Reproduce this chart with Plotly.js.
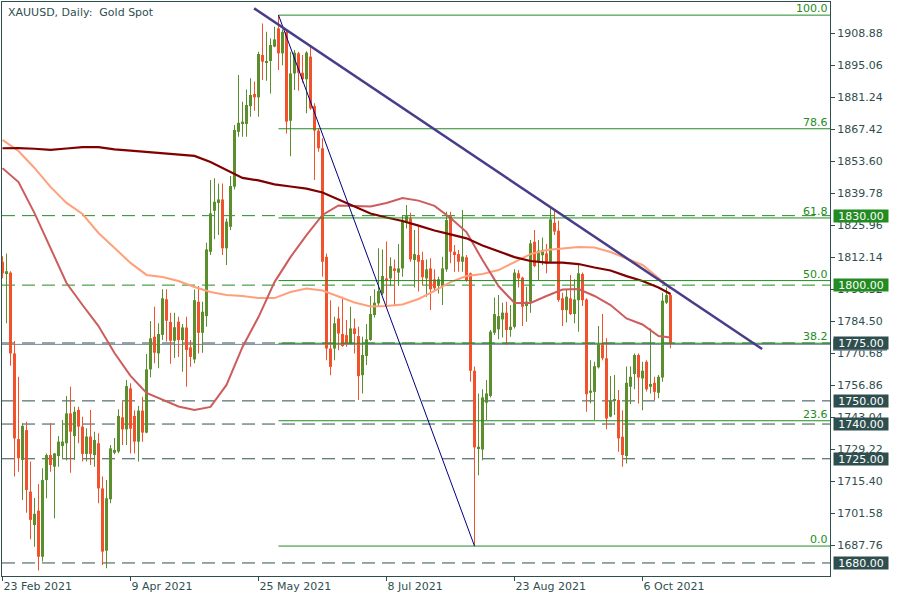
<!DOCTYPE html>
<html><head><meta charset="utf-8">
<script src="https://cdn.plot.ly/plotly-3.0.1.min.js"></script>
<style>html,body{margin:0;padding:0;background:#fff;}#chart{width:900px;height:600px;}</style>
</head><body><div id="chart"></div>
<script>
// ---------- data ----------
const tickIndex = [0, 32, 64, 96, 128, 160];
const tickLabels = ['23 Feb 2021', '9 Apr 2021', '25 May 2021', '8 Jul 2021', '23 Aug 2021', '6 Oct 2021'];
const priceTicks = [1687.76, 1701.58, 1715.40, 1729.22, 1743.04, 1756.86, 1770.68, 1784.50, 1798.32,
  1812.14, 1825.96, 1839.78, 1853.60, 1867.42, 1881.24, 1895.06, 1908.88];

const openP = [1810.1,1805.2,1805.4,1770.5,1733.5,1724.5,1737.4,1710.8,1696.4,1702.6,
1682.7,1715.8,1726.6,1721.6,1726.2,1730.5,1731.7,1744.6,1734.8,1746.1,
1738.9,1727.1,1734.6,1726.6,1731.7,1712.2,1685.3,1707.5,1727.6,1728.1,
1742.9,1737.7,1755.4,1743.5,1732.4,1745.8,1736.3,1763.6,1777.7,1770.5,
1778.5,1793.9,1784.1,1776.0,1784.2,1776.3,1781.7,1773.1,1767.9,1792.8,
1779.4,1786.6,1814.4,1832.1,1835.5,1837.0,1815.9,1825.2,1842.5,1866.2,
1869.6,1869.6,1877.3,1882.5,1881.1,1899.4,1896.1,1896.8,1903.0,1910.9,
1900.1,1909.4,1871.0,1891.4,1900.1,1891.7,1888.9,1898.7,1877.3,1866.7,
1859.1,1812.2,1772.6,1772.6,1785.6,1778.9,1778.4,1774.8,1781.3,1778.0,
1761.1,1769.4,1776.3,1787.1,1792.1,1796.4,1802.9,1802.9,1807.2,1805.4,
1807.2,1827.4,1828.8,1810.8,1813.0,1810.8,1802.9,1807.2,1802.5,1799.6,
1799.6,1806.8,1829.8,1814.4,1813.4,1810.1,1812.0,1805.1,1763.0,1729.5,
1729.0,1749.2,1752.1,1779.4,1780.9,1785.2,1788.1,1780.6,1782.0,1805.1,
1803.2,1791.0,1792.8,1818.7,1810.1,1812.9,1813.7,1810.1,1826.9,1823.5,
1794.3,1789.2,1794.3,1787.5,1793.5,1804.8,1793.8,1753.5,1753.9,1764.5,
1774.8,1768.4,1743.2,1750.1,1750.4,1734.5,1726.2,1756.1,1761.6,1769.8,
1759.7,1766.9,1756.1,1757.8,1753.5,1760.1,1792.4,1795.7];

const highP = [1812.5,1813.7,1806.0,1775.9,1760.4,1740.3,1741.0,1723.8,1708.1,1714.1,
1720.9,1727.3,1740.3,1727.5,1734.8,1741.7,1752.1,1756.1,1747.5,1747.5,
1743.2,1738.2,1746.1,1736.7,1736.0,1717.3,1715.8,1731.0,1734.0,1746.4,
1749.7,1759.0,1757.6,1746.0,1747.8,1751.8,1770.3,1784.5,1790.7,1783.5,
1798.2,1798.2,1788.1,1788.1,1786.3,1783.2,1786.3,1776.3,1798.1,1799.6,
1792.8,1818.3,1845.4,1846.1,1843.9,1843.9,1828.8,1847.1,1869.1,1890.7,
1879.2,1884.5,1889.3,1887.9,1900.8,1913.0,1909.4,1906.6,1911.6,1916.6,
1910.5,1910.2,1900.8,1901.5,1900.8,1899.4,1901.0,1903.0,1878.5,1867.7,
1863.4,1813.7,1793.5,1786.3,1790.7,1795.0,1784.9,1790.7,1785.6,1782.0,
1777.7,1783.2,1795.3,1798.2,1815.9,1815.4,1818.8,1812.0,1811.1,1817.8,
1830.3,1834.6,1831.3,1823.8,1825.2,1814.4,1811.1,1811.6,1806.8,1803.6,
1812.3,1831.7,1831.7,1817.3,1815.2,1832.4,1813.0,1805.4,1764.8,1753.2,
1755.0,1759.0,1780.6,1794.7,1795.7,1792.4,1792.8,1791.4,1806.8,1806.5,
1803.6,1799.3,1819.5,1823.8,1819.5,1820.6,1817.8,1833.9,1832.7,1827.8,
1796.7,1798.2,1804.4,1802.5,1808.7,1805.5,1794.3,1767.6,1766.9,1782.3,
1787.5,1777.0,1760.7,1761.2,1754.7,1746.0,1764.8,1764.8,1770.5,1770.5,
1766.9,1767.5,1781.3,1760.4,1761.2,1796.7,1799.0,1796.4];

const lowP = [1803.0,1783.5,1765.2,1717.3,1719.4,1707.2,1701.7,1690.2,1687.0,1676.7,
1680.6,1707.9,1719.4,1699.3,1721.6,1725.2,1724.2,1719.0,1724.5,1731.7,
1723.8,1723.8,1722.3,1721.6,1705.8,1679.1,1677.7,1705.8,1726.9,1727.4,
1731.0,1731.0,1727.3,1727.3,1723.8,1732.4,1736.0,1760.2,1766.2,1764.1,
1776.3,1775.6,1766.0,1768.5,1769.0,1762.6,1756.1,1764.7,1766.2,1770.5,
1770.8,1782.0,1813.0,1819.8,1821.6,1813.0,1808.7,1823.8,1841.3,1864.1,
1864.1,1864.1,1872.7,1875.3,1872.7,1888.6,1888.3,1882.8,1902.7,1892.9,
1895.0,1865.5,1855.7,1884.3,1883.9,1887.4,1874.2,1875.6,1845.4,1857.6,
1803.6,1767.6,1761.1,1767.6,1771.9,1773.4,1773.4,1774.5,1770.5,1750.4,
1753.2,1765.5,1776.0,1786.0,1791.0,1795.7,1791.4,1799.6,1791.4,1799.6,
1803.6,1824.5,1810.1,1799.0,1797.2,1800.0,1795.0,1789.2,1797.9,1796.4,
1791.4,1805.8,1809.4,1805.8,1805.8,1805.8,1801.5,1758.3,1687.3,1717.9,
1724.4,1741.7,1751.5,1778.4,1776.6,1777.4,1774.1,1777.7,1781.3,1799.0,
1782.3,1784.2,1788.1,1807.7,1802.2,1808.7,1805.1,1809.7,1821.6,1792.8,
1782.3,1783.8,1787.1,1783.5,1779.9,1791.0,1745.3,1749.0,1741.7,1764.0,
1767.6,1737.7,1742.9,1743.9,1728.0,1721.6,1723.0,1748.6,1755.0,1748.9,
1746.0,1754.0,1753.2,1750.4,1751.1,1758.3,1791.8,1772.7];

const closeP = [1805.1,1806.0,1770.5,1733.8,1725.2,1739.2,1711.5,1698.6,1701.2,1682.7,
1715.8,1726.6,1722.3,1727.3,1732.4,1732.4,1744.6,1736.7,1745.3,1738.9,
1727.1,1734.6,1727.1,1733.1,1712.2,1684.9,1707.9,1729.5,1728.8,1743.5,
1737.7,1756.4,1738.0,1732.4,1745.8,1736.3,1763.6,1777.0,1770.8,1778.9,
1794.3,1784.6,1776.0,1781.8,1776.3,1781.7,1772.0,1769.0,1793.5,1779.4,
1788.5,1815.4,1831.0,1836.0,1837.0,1815.9,1827.4,1842.8,1867.0,1870.1,
1870.6,1877.8,1882.1,1881.1,1899.8,1896.5,1896.8,1903.7,1906.1,1900.1,
1909.4,1870.6,1891.4,1900.4,1891.7,1888.9,1900.4,1876.3,1866.7,1859.1,
1810.1,1772.6,1764.7,1783.5,1779.1,1773.7,1774.8,1781.3,1778.9,1760.7,
1769.8,1776.6,1787.5,1792.4,1797.4,1803.9,1802.2,1808.2,1806.5,1807.2,
1828.1,1829.8,1811.1,1813.4,1810.1,1803.4,1806.8,1798.2,1798.6,1802.5,
1807.2,1828.1,1814.4,1813.0,1810.1,1812.3,1802.2,1763.0,1729.9,1730.2,
1751.5,1753.2,1779.9,1787.5,1786.6,1788.1,1780.6,1782.0,1805.4,1802.9,
1790.7,1792.9,1818.0,1808.2,1814.9,1815.2,1809.4,1828.4,1823.1,1793.6,
1789.2,1795.0,1787.5,1793.8,1805.1,1793.5,1752.9,1754.4,1765.0,1774.5,
1768.4,1742.4,1750.0,1750.8,1733.8,1726.6,1757.8,1760.4,1769.8,1760.1,
1763.0,1755.0,1757.3,1753.9,1760.4,1793.3,1795.7,1774.8];

// moving averages (bar index -> value)
const maIndex = [0,4,8,12,16,20,24,28,32,36,40,44,48,52,56,60,64,68,72,76,80,84,88,92,96,100,104,108,112,116,120,124,128,132,136,140,144,148,152,156,160,164,167];
const maSlow = [1859.1,1859.2,1858.9,1858.4,1859.0,1859.6,1859.6,1858.6,1858.1,1857.6,1857.1,1856.4,1855.8,1853.2,1849.7,1846.3,1845.2,1843.5,1842.6,1841.7,1840.0,1837.0,1834.2,1830.9,1829.2,1827.7,1825.7,1823.6,1821.9,1820.2,1817.1,1814.7,1812.1,1810.4,1809.7,1809.7,1809.1,1807.6,1806.3,1803.9,1801.8,1799.0,1796.2];
const maMid = [1862.7,1857.9,1850.6,1842.4,1835.5,1830.7,1822.5,1816.0,1809.6,1804.4,1803.5,1801.8,1799.2,1797.0,1795.7,1795.3,1794.4,1794.4,1797.0,1798.5,1797.7,1795.1,1792.5,1790.8,1791.0,1791.6,1794.0,1797.5,1801.3,1803.9,1804.8,1806.5,1810.0,1813.4,1815.2,1816.0,1816.5,1816.2,1814.3,1811.5,1808.7,1803.1,1798.5];
const maFast = [1850.5,1844.5,1831.1,1816.0,1800.9,1791.4,1782.3,1770.7,1760.8,1753.4,1750.4,1747.6,1746.1,1747.4,1756.9,1773.3,1786.2,1801.3,1812.1,1821.6,1830.3,1834.4,1834.2,1834.0,1835.5,1837.6,1836.5,1834.2,1829.0,1822.9,1810.8,1799.6,1792.3,1792.3,1795.3,1798.1,1798.3,1795.3,1791.4,1785.6,1783.0,1778.0,1777.4];

const levels = [1830, 1800, 1775, 1750, 1740, 1725, 1680];
const levelGreen = [true, true, false, false, false, false, false];
const fibHighIdx = 69, fibHigh = 1916.6, fibLowIdx = 118, fibLow = 1687.3;
const fibRatios = [1, 0.786, 0.618, 0.5, 0.382, 0.236, 0];
const fibLabels = ['100.0', '78.6', '61.8', '50.0', '38.2', '23.6', '0.0'];
const trendIdx = [62.9, 189.9];
const trendPrice = [1919.5, 1772.4];
const bidPrice = 1774.4;

// ---------- styling ----------
const UP = '#5B8E2D', DOWN = '#F2512B', GREEN = '#228B22', SLATE = '#2F4F4F';
const XMAX = 206.875, XMIN = -0.125;

const idx = openP.map((_, i) => i);
const colors = idx.map(i => closeP[i] >= openP[i] ? UP : DOWN);

const traces = [
  { type: 'bar', x: idx, base: lowP, y: idx.map(i => highP[i] - lowP[i]), width: 0.25,
    marker: { color: colors, line: { width: 0 } }, hoverinfo: 'skip' },
  { type: 'bar', x: idx, base: idx.map(i => Math.min(openP[i], closeP[i])),
    y: idx.map(i => Math.abs(closeP[i] - openP[i])), width: 0.75,
    marker: { color: colors, line: { width: 0 } }, hoverinfo: 'skip' },
  { type: 'scatter', mode: 'lines', x: maIndex, y: maMid, line: { color: '#FFA07A', width: 2 }, hoverinfo: 'skip' },
  { type: 'scatter', mode: 'lines', x: maIndex, y: maFast, line: { color: '#CD5C5C', width: 2 }, hoverinfo: 'skip' },
  { type: 'scatter', mode: 'lines', x: maIndex, y: maSlow, line: { color: '#800000', width: 2.2 }, hoverinfo: 'skip' }
];

const shapes = [];
levels.forEach((v, k) => {
  shapes.push({ type: 'line', xref: 'paper', yref: 'y', x0: 0, x1: 1, y0: v, y1: v, layer: 'below',
    line: { color: levelGreen[k] ? GREEN : SLATE, width: 1, dash: '13px,7px' } });
});
shapes.push({ type: 'line', xref: 'paper', yref: 'y', x0: 0, x1: 1, y0: bidPrice, y1: bidPrice, layer: 'below',
  line: { color: '#778899', width: 1 } });
const fibPrices = fibRatios.map(r => fibLow + r * (fibHigh - fibLow));
fibPrices.forEach(p => {
  shapes.push({ type: 'line', xref: 'x', yref: 'y', x0: fibHighIdx, x1: XMAX, y0: p, y1: p, layer: 'above',
    line: { color: GREEN, width: 1 } });
});
shapes.push({ type: 'line', xref: 'x', yref: 'y', x0: fibHighIdx, y0: fibHigh, x1: fibLowIdx, y1: fibLow, layer: 'above',
  line: { color: '#000080', width: 1 } });
shapes.push({ type: 'line', xref: 'x', yref: 'y', x0: trendIdx[0], y0: trendPrice[0], x1: trendIdx[1], y1: trendPrice[1], layer: 'above',
  line: { color: '#483D8B', width: 2.5 } });
// bid price tag peeking below the 1775 tag
shapes.push({ type: 'rect', xref: 'paper', yref: 'y', x0: 1 + 3 / 828, x1: 1 + 57 / 828, y0: 1771.6, y1: 1776.7,
  fillcolor: '#778899', line: { width: 0 }, layer: 'above' });

const annotations = [];
annotations.push({ xref: 'paper', yref: 'paper', x: 0, y: 1, xanchor: 'left', yanchor: 'top', xshift: 4, yshift: -2,
  text: 'XAUUSD, Daily:\u00A0 Gold Spot', showarrow: false, font: { family: 'DejaVu Sans', size: 11, color: SLATE } });
fibPrices.forEach((p, k) => {
  annotations.push({ xref: 'paper', yref: 'y', x: 1, y: p, xanchor: 'right', yanchor: 'bottom', xshift: -1, yshift: -1,
    text: fibLabels[k], showarrow: false, borderpad: 0, font: { family: 'DejaVu Sans', size: 11, color: GREEN } });
});
levels.forEach((v, k) => {
  annotations.push({ xref: 'paper', yref: 'y', x: 1, y: v, xanchor: 'left', yanchor: 'middle', xshift: 3,
    text: v.toFixed(2), showarrow: false, width: 54, height: 12, borderpad: 0, align: 'center',
    bgcolor: levelGreen[k] ? GREEN : SLATE, font: { family: 'DejaVu Sans', size: 11, color: '#FFFFFF' } });
});

const axisFont = { family: 'DejaVu Sans', size: 11, color: SLATE };
const layout = {
  width: 900, height: 600,
  margin: { l: 2, r: 70, t: 2, b: 24, pad: 0 },
  paper_bgcolor: '#FFFFFF', plot_bgcolor: '#FFFFFF',
  showlegend: false, barmode: 'overlay', hovermode: false,
  font: axisFont,
  xaxis: { range: [XMIN, XMAX], showgrid: false, zeroline: false, showline: true, mirror: true,
    linecolor: SLATE, linewidth: 1, ticks: 'outside', ticklen: 4, tickcolor: SLATE, tickwidth: 1,
    tickvals: tickIndex, ticktext: tickLabels, ticklabelposition: 'outside right', tickfont: axisFont, fixedrange: true },
  yaxis: { side: 'right', range: [1674.37, 1922.27], showgrid: false, zeroline: false, showline: true, mirror: true,
    linecolor: SLATE, linewidth: 1, ticks: 'outside', ticklen: 4, tickcolor: SLATE, tickwidth: 1,
    tickvals: priceTicks, ticktext: priceTicks.map(v => v.toFixed(2)), tickfont: axisFont, fixedrange: true },
  shapes: shapes,
  annotations: annotations
};

Plotly.newPlot('chart', traces, layout, { displayModeBar: false, responsive: false });
</script>
</body></html>
